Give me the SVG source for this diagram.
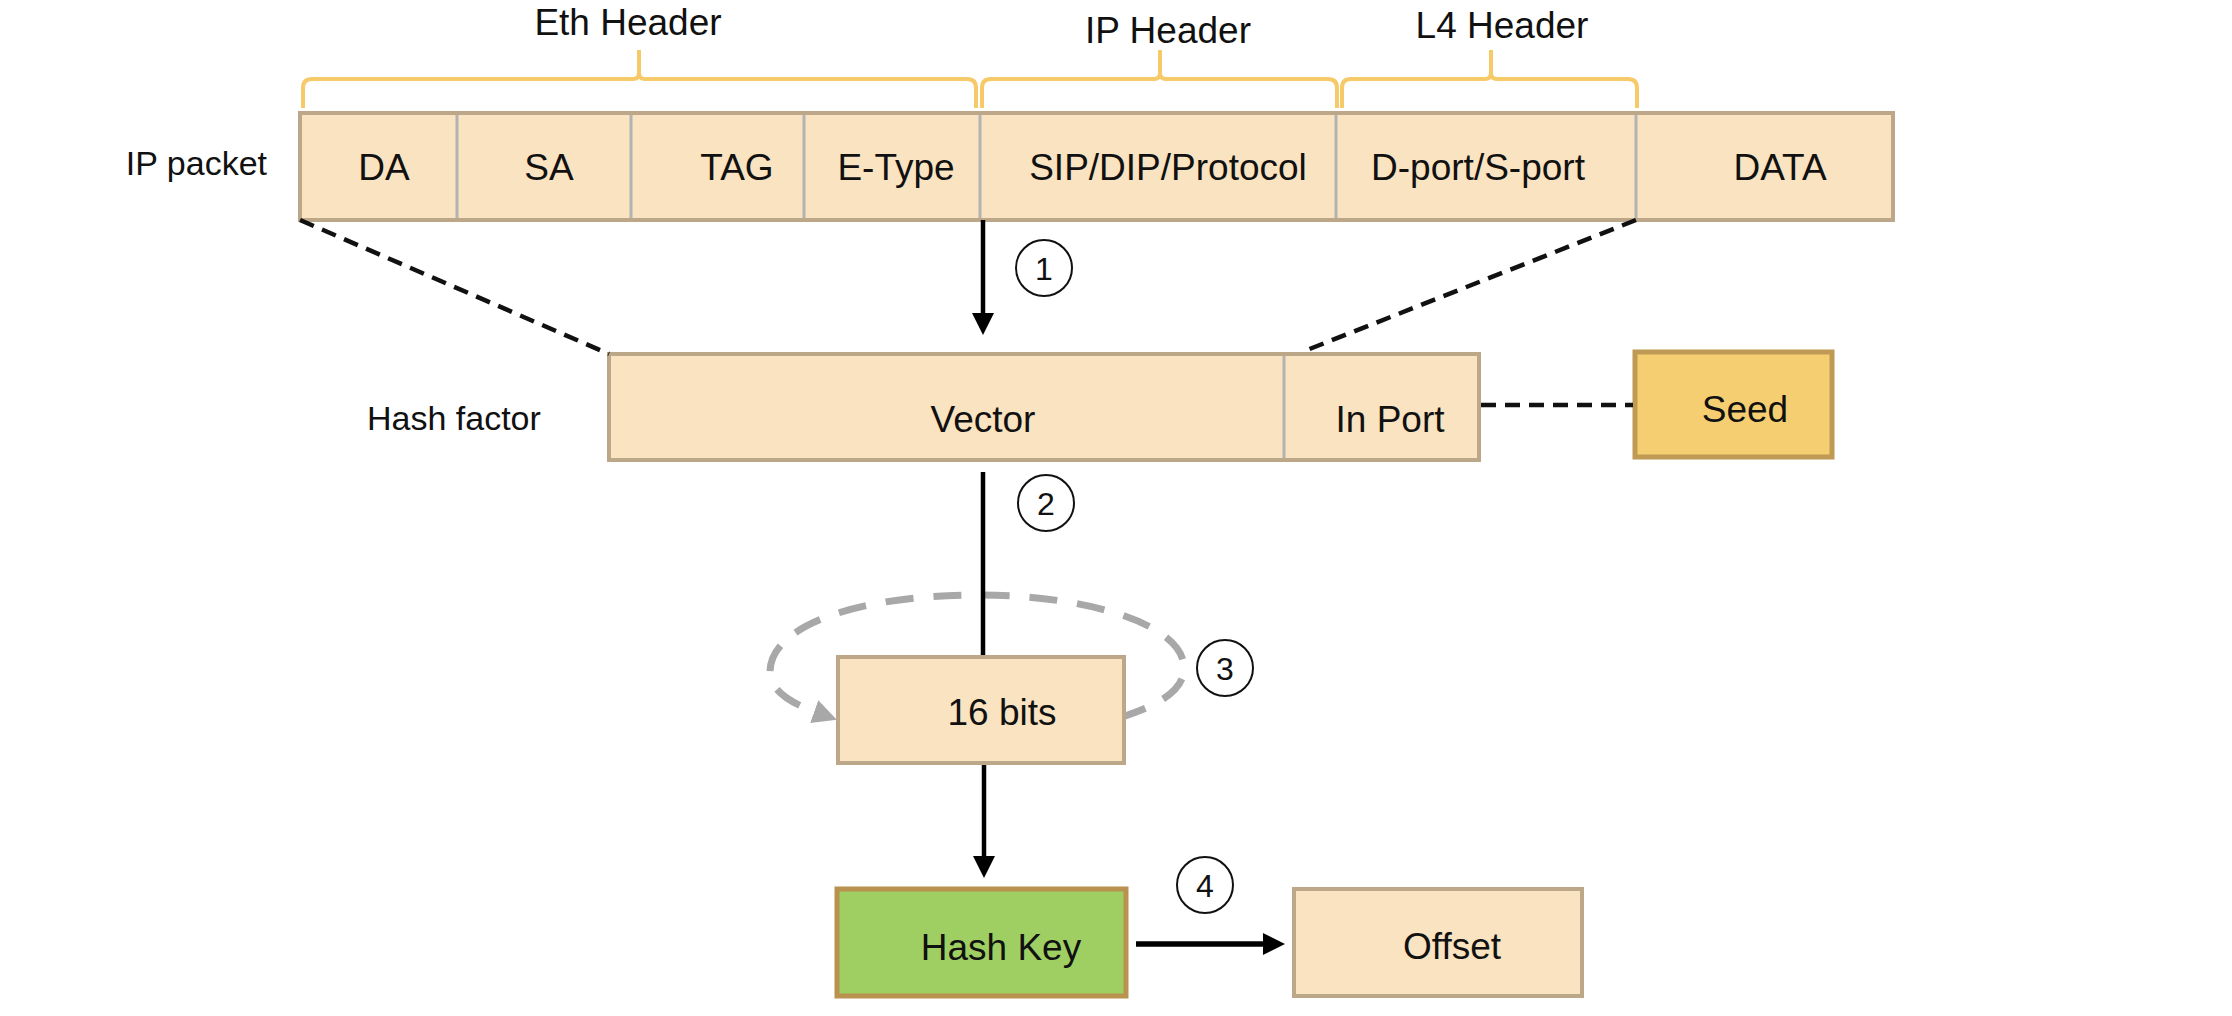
<svg xmlns="http://www.w3.org/2000/svg" width="2232" height="1016" viewBox="0 0 2232 1016">
<style>
  text { font-family: "Liberation Sans", Arial, sans-serif; fill: #111; }
  .t { font-size: 37px; text-anchor: middle; }
  .side { font-size: 34px; }
  .num { font-size: 32px; text-anchor: middle; }
  .cell { fill: #FAE3C0; stroke: none; }
  .outer { fill: none; stroke: #BCA888; stroke-width: 4; }
  .box { fill: #FAE3C0; stroke: #BCA888; stroke-width: 4; }
  .seed { fill: #F6CE72; stroke: #BE9A55; stroke-width: 5; }
  .key { fill: #9FCF63; stroke: #B8924E; stroke-width: 5; }
  .div { stroke: #B3B3B3; stroke-width: 3; }
  .brace { fill: none; stroke: #F6C969; stroke-width: 4; stroke-linejoin: round; }
  .dash { fill: none; stroke: #111; stroke-width: 4.5; stroke-dasharray: 15 9; }
  .arrow { fill: none; stroke: #000; stroke-width: 4.5; }
  .loop { fill: none; stroke: #A8A8A8; stroke-width: 7; stroke-dasharray: 28 20; }
  .circ { fill: #fff; stroke: #111; stroke-width: 2; }
</style>
<defs>
  <marker id="ah" markerUnits="userSpaceOnUse" markerWidth="24" markerHeight="24" refX="4" refY="11" orient="auto">
    <path d="M0,0 L22,11 L0,22 Z" fill="#000"/>
  </marker>
  <marker id="ahg" markerUnits="userSpaceOnUse" markerWidth="26" markerHeight="26" refX="4" refY="12" orient="auto">
    <path d="M0,0 L24,12 L0,24 Z" fill="#A8A8A8"/>
  </marker>
</defs>

<!-- header braces -->
<g id="eth-header">
  <path class="brace" d="M303,108 L303,88 Q303,79 312,79 L633,79 Q639,79 639,73 L639,50 M639,73 Q639,79 645,79 L967,79 Q976,79 976,88 L976,108"/>
  <text class="t" x="628" y="35">Eth Header</text>
</g>
<g id="ip-header">
  <path class="brace" d="M982,108 L982,88 Q982,79 991,79 L1154,79 Q1160,79 1160,73 L1160,50 M1160,73 Q1160,79 1166,79 L1328,79 Q1337,79 1337,88 L1337,108"/>
  <text class="t" x="1168" y="43">IP Header</text>
</g>
<g id="l4-header">
  <path class="brace" d="M1342,108 L1342,88 Q1342,79 1351,79 L1485,79 Q1491,79 1491,73 L1491,50 M1491,73 Q1491,79 1497,79 L1628,79 Q1637,79 1637,88 L1637,108"/>
  <text class="t" x="1502" y="38">L4 Header</text>
</g>

<!-- IP packet -->
<g id="ip-packet">
  <text class="side" x="267" y="175" text-anchor="end">IP packet</text>
  <g id="cell-da"><rect class="cell" x="300" y="113" width="157" height="107"/><text class="t" x="384" y="180">DA</text></g>
  <g id="cell-sa"><rect class="cell" x="457" y="113" width="174" height="107"/><text class="t" x="549" y="180">SA</text></g>
  <g id="cell-tag"><rect class="cell" x="631" y="113" width="173" height="107"/><text class="t" x="737" y="180">TAG</text></g>
  <g id="cell-etype"><rect class="cell" x="804" y="113" width="176" height="107"/><text class="t" x="896" y="180">E-Type</text></g>
  <g id="cell-sip"><rect class="cell" x="980" y="113" width="356" height="107"/><text class="t" x="1168" y="180">SIP/DIP/Protocol</text></g>
  <g id="cell-port"><rect class="cell" x="1336" y="113" width="300" height="107"/><text class="t" x="1478" y="180">D-port/S-port</text></g>
  <g id="cell-data"><rect class="cell" x="1636" y="113" width="257" height="107"/><text class="t" x="1780" y="180">DATA</text></g>
  <line class="div" x1="457" y1="115" x2="457" y2="218"/>
  <line class="div" x1="631" y1="115" x2="631" y2="218"/>
  <line class="div" x1="804" y1="115" x2="804" y2="218"/>
  <line class="div" x1="980" y1="115" x2="980" y2="218"/>
  <line class="div" x1="1336" y1="115" x2="1336" y2="218"/>
  <line class="div" x1="1636" y1="115" x2="1636" y2="218"/>
  <rect class="outer" x="300" y="113" width="1593" height="107"/>
</g>

<!-- Hash factor -->
<g id="hash-factor">
  <text class="side" x="367" y="430">Hash factor</text>
  <rect class="box" x="609" y="354" width="870" height="106"/>
  <line class="div" x1="1284" y1="356" x2="1284" y2="458"/>
  <text class="t" x="983" y="432">Vector</text>
  <text class="t" x="1390" y="432">In Port</text>
</g>

<g id="seed">
  <rect class="seed" x="1635" y="352" width="197" height="105"/>
  <text class="t" x="1745" y="422">Seed</text>
</g>

<!-- connectors -->
<g id="connectors">
  <line class="dash" x1="300" y1="220" x2="609" y2="354"/>
  <line class="dash" x1="1636" y1="220" x2="1302" y2="352"/>
  <line class="dash" x1="1481" y1="405" x2="1633" y2="405"/>
  <path class="loop" d="M1119,718 C1160,705 1184,690 1184,668 C1184,625 1090,595 977,595 C860,595 770,625 770,672 C770,690 790,703 818,713" marker-end="url(#ahg)"/>
  <line class="arrow" x1="983" y1="220" x2="983" y2="317" marker-end="url(#ah)"/>
  <line class="arrow" x1="983" y1="472" x2="983" y2="657"/>
  <line class="arrow" x1="984" y1="763" x2="984" y2="860" marker-end="url(#ah)"/>
  <line class="arrow" style="stroke-width:5.5" x1="1136" y1="944" x2="1267" y2="944" marker-end="url(#ah)"/>
</g>

<g id="bits16">
  <rect class="box" x="838" y="657" width="286" height="106"/>
  <text class="t" x="1002" y="725">16 bits</text>
</g>
<g id="hash-key">
  <rect class="key" x="837" y="889" width="289" height="107"/>
  <text class="t" x="1001" y="960">Hash Key</text>
</g>
<g id="offset">
  <rect class="box" x="1294" y="889" width="288" height="107"/>
  <text class="t" x="1452" y="959">Offset</text>
</g>

<!-- step markers -->
<g id="step1"><circle class="circ" cx="1044" cy="268" r="28"/><text class="num" x="1044" y="280">1</text></g>
<g id="step2"><circle class="circ" cx="1046" cy="503" r="28"/><text class="num" x="1046" y="515">2</text></g>
<g id="step3"><circle class="circ" cx="1225" cy="668" r="28"/><text class="num" x="1225" y="680">3</text></g>
<g id="step4"><circle class="circ" cx="1205" cy="885" r="28"/><text class="num" x="1205" y="897">4</text></g>
</svg>
